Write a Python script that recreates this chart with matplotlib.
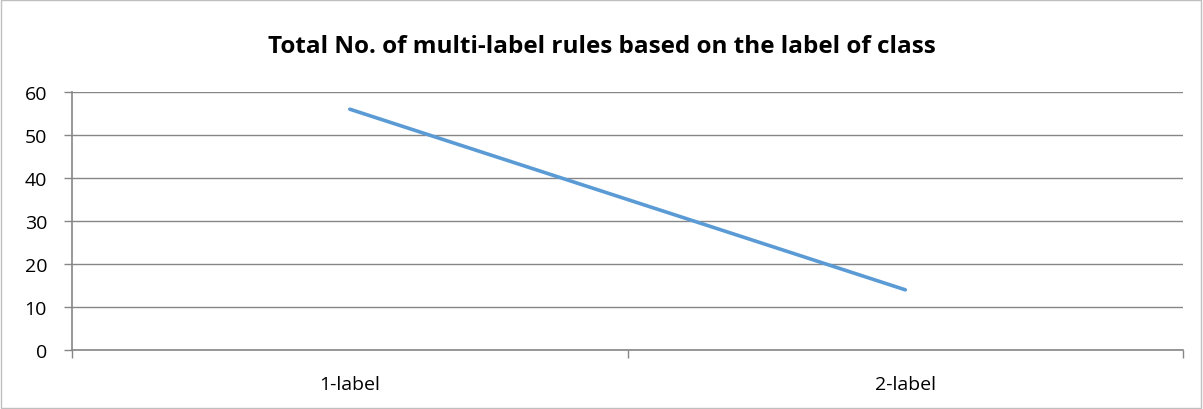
import matplotlib.pyplot as plt
from matplotlib.patches import Rectangle

categorias = ["1-label", "2-label"]
valores = [56, 14]
yticks = [0, 10, 20, 30, 40, 50, 60]

plt.rcParams['font.family'] = ['Open Sans', 'DejaVu Sans']

fig = plt.figure(figsize=(12.03, 4.10), dpi=100)
ax = fig.add_axes([0.0599, 0.1439, 0.9235, 0.6293])

x = list(range(len(categorias)))
ax.plot(x, valores, color="#5b9bd5", linewidth=2.6, solid_capstyle="round")

ax.set_xlim(-0.5, len(categorias) - 0.5)
ax.set_ylim(0, 60)
ax.set_yticks(yticks)
ax.set_yticklabels([str(v) for v in yticks], fontsize=14)
ax.set_xticks(x)
ax.set_xticklabels(categorias, fontsize=14)
ax.set_xticks([i - 0.5 for i in range(len(categorias) + 1)], minor=True)
ax.tick_params(axis="x", which="major", length=0, pad=18)
ax.tick_params(axis="x", which="minor", length=6, color="#868686", width=1)
ax.tick_params(axis="y", length=6, color="#868686", width=1, pad=12)

ax.grid(axis="y", color="#868686", linewidth=1)
ax.set_axisbelow(True)
for lado in ["top", "right"]:
    ax.spines[lado].set_visible(False)
for lado in ["left", "bottom"]:
    ax.spines[lado].set_color("#868686")
    ax.spines[lado].set_linewidth(1.2)

fig.text(0.5, 0.885, "Total No. of multi-label rules based on the label of class",
         ha="center", va="center", fontsize=17.5, fontweight="bold")

fig.patches.append(Rectangle((0.001, 0.002), 0.997, 0.995, transform=fig.transFigure,
                             fill=False, edgecolor="#bfbfbf", linewidth=1))

fig.savefig("out.png", dpi=100)
plt.close(fig)
